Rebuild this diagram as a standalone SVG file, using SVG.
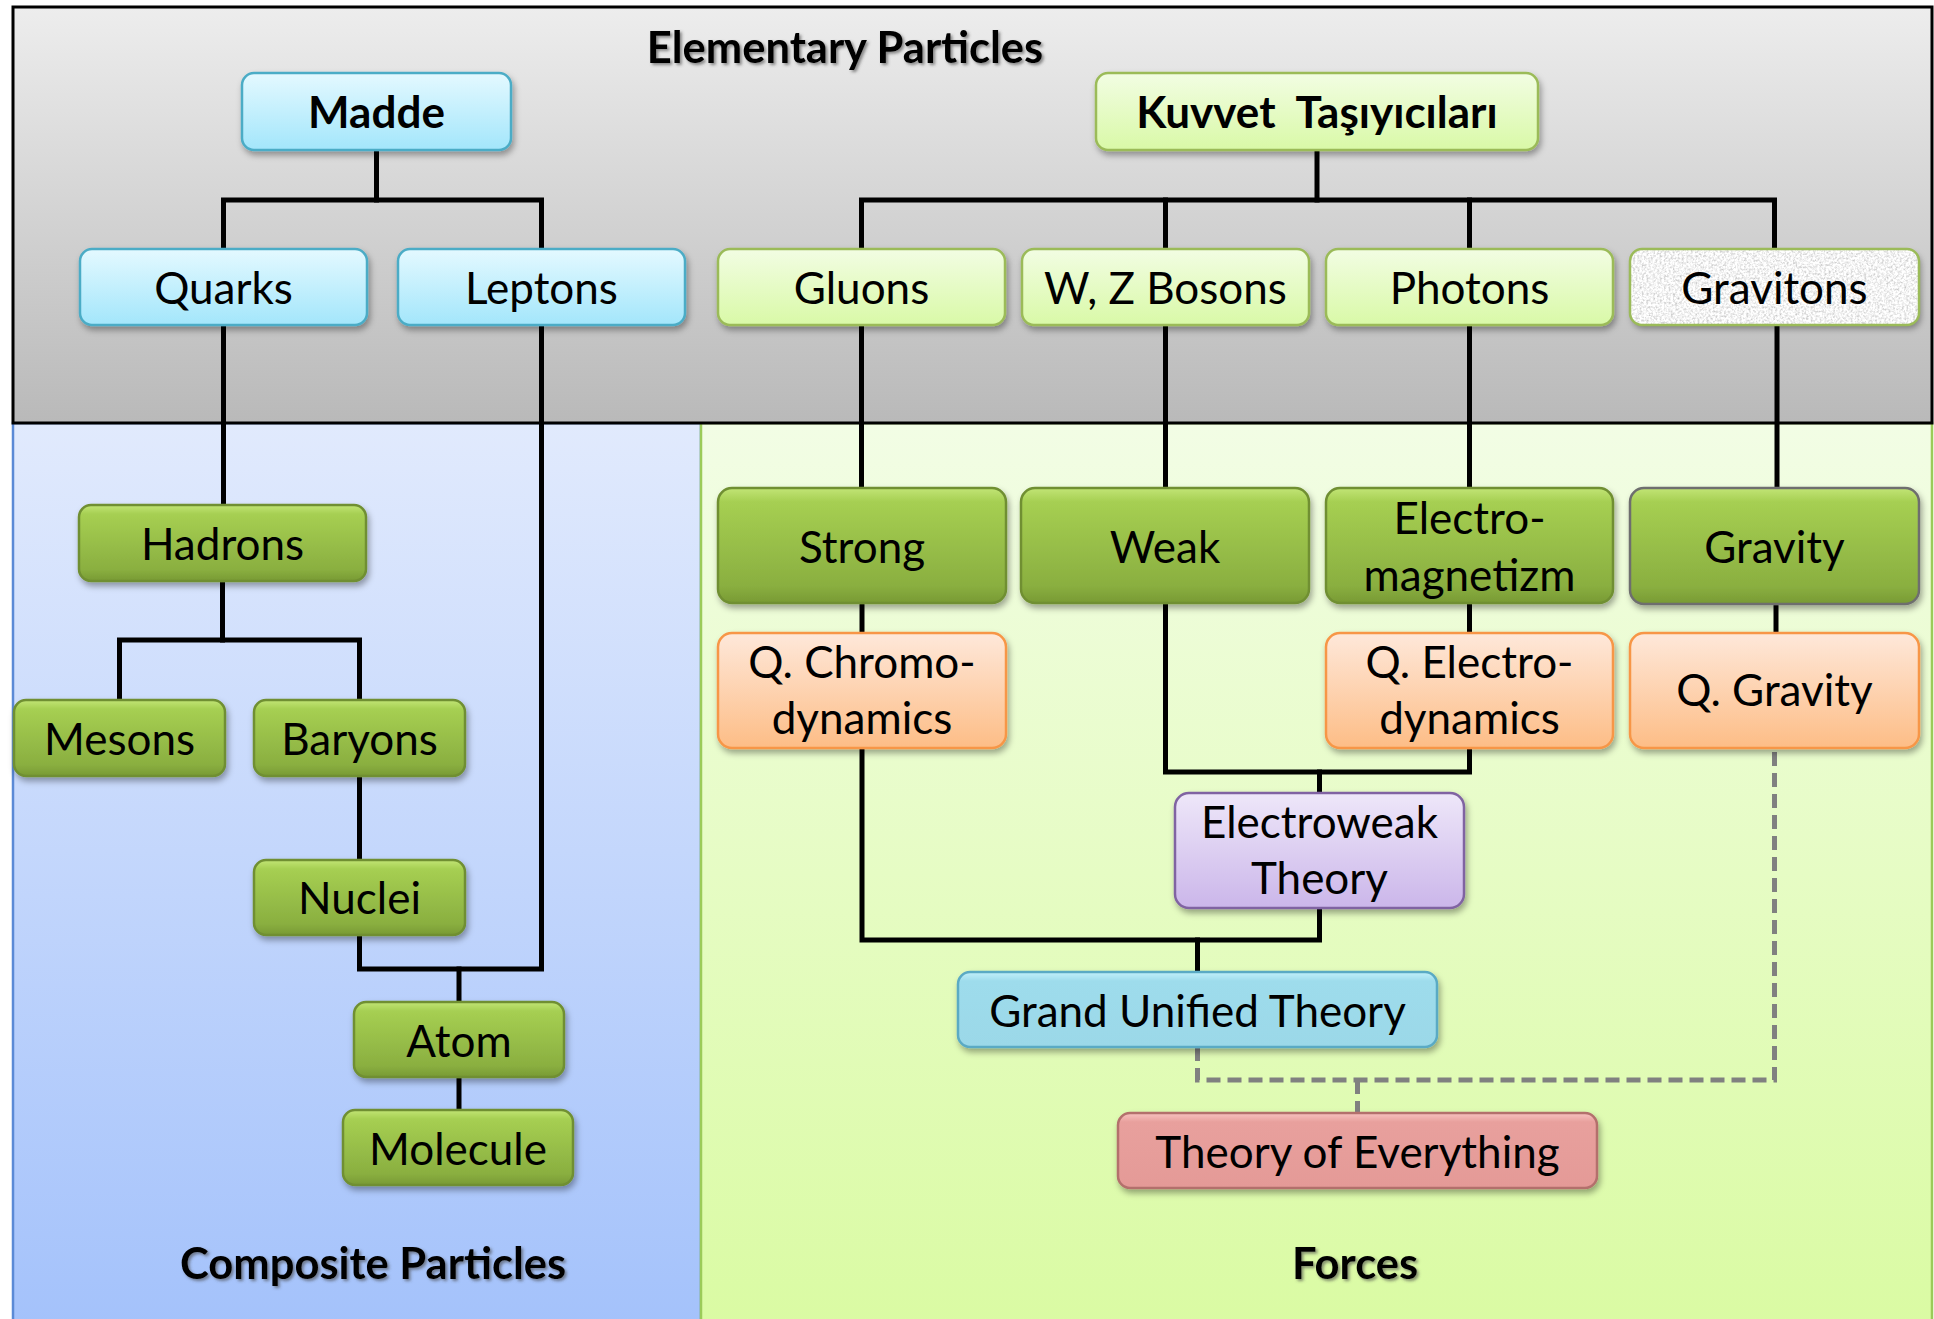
<svg xmlns="http://www.w3.org/2000/svg" width="1934" height="1319" viewBox="0 0 1934 1319">
<defs>
<style>
.lbl{font-family:Lato,"Liberation Sans",sans-serif;font-size:44px;text-anchor:middle;fill:#000}
.b{font-weight:700}
.hdr{font-family:Lato,"Liberation Sans",sans-serif;font-size:43.5px;font-weight:700;text-anchor:middle;fill:#000}
.conn{stroke:#000;stroke-width:5;fill:none;stroke-linejoin:miter;stroke-linecap:square}
.dash{stroke:#808080;stroke-width:5;stroke-dasharray:14 7;fill:none}
.nBlue{fill:url(#gNBlue);stroke:#4bacc6;stroke-width:2.5}
.nLG{fill:url(#gNLG);stroke:#9bbb59;stroke-width:2.5}
.nDG{fill:url(#gNDG);stroke:#6f8f32;stroke-width:2.5}
.nOr{fill:url(#gNOr);stroke:#f79646;stroke-width:2.5}
.nPu{fill:url(#gNPu);stroke:#8064a2;stroke-width:2.5}
.nGut{fill:url(#gNGut);stroke:#5aaac4;stroke-width:2.5}
.nToe{fill:url(#gNToe);stroke:#b36f6c;stroke-width:2.5}
.sh{filter:url(#shadow)}
</style>
<linearGradient id="gGrey" x1="0" y1="0" x2="0" y2="1"><stop offset="0" stop-color="#ededed"/><stop offset="1" stop-color="#b9b9b9"/></linearGradient>
<linearGradient id="gBlueBg" x1="0" y1="0" x2="0" y2="1"><stop offset="0" stop-color="#e1eafd"/><stop offset="1" stop-color="#a4c2fb"/></linearGradient>
<linearGradient id="gGreenBg" x1="0" y1="0" x2="0" y2="1"><stop offset="0" stop-color="#f2fde5"/><stop offset="1" stop-color="#dafba3"/></linearGradient>
<linearGradient id="gNBlue" x1="0" y1="0" x2="0" y2="1"><stop offset="0" stop-color="#e4f9ff"/><stop offset="1" stop-color="#a3e6fb"/></linearGradient>
<linearGradient id="gNLG" x1="0" y1="0" x2="0" y2="1"><stop offset="0" stop-color="#f2fde3"/><stop offset="1" stop-color="#d9f9a7"/></linearGradient>
<linearGradient id="gNDG" x1="0" y1="0" x2="0" y2="1"><stop offset="0" stop-color="#c2e576"/><stop offset="0.12" stop-color="#a6cf52"/><stop offset="0.85" stop-color="#8aaf40"/><stop offset="1" stop-color="#789a34"/></linearGradient>
<linearGradient id="gNOr" x1="0" y1="0" x2="0" y2="1"><stop offset="0" stop-color="#fee8da"/><stop offset="1" stop-color="#fdbd86"/></linearGradient>
<linearGradient id="gNPu" x1="0" y1="0" x2="0" y2="1"><stop offset="0" stop-color="#eee7f9"/><stop offset="1" stop-color="#cbb6ea"/></linearGradient>
<linearGradient id="gNGut" x1="0" y1="0" x2="0" y2="1"><stop offset="0" stop-color="#c2f0fb"/><stop offset="0.12" stop-color="#9edcec"/><stop offset="1" stop-color="#9bd8e8"/></linearGradient>
<linearGradient id="gNToe" x1="0" y1="0" x2="0" y2="1"><stop offset="0" stop-color="#f8c2c0"/><stop offset="0.12" stop-color="#e8a09d"/><stop offset="1" stop-color="#e49a97"/></linearGradient>
<filter id="shadow" x="-10%" y="-10%" width="120%" height="140%"><feDropShadow dx="2" dy="4" stdDeviation="3" flood-color="#000" flood-opacity="0.35"/></filter>
<filter id="tshadow" x="-5%" y="-20%" width="110%" height="150%"><feDropShadow dx="2" dy="2" stdDeviation="1.5" flood-color="#444" flood-opacity="0.6"/></filter>
<filter id="granite" x="0" y="0" width="1" height="1">
<feTurbulence type="fractalNoise" baseFrequency="0.45" numOctaves="3" seed="4" result="n"/>
<feColorMatrix in="n" type="matrix" values="0.9 0 0 0 0.45  0.9 0 0 0 0.45  0.9 0 0 0 0.45  0 0 0 0 1" result="g"/>
<feComposite in="g" in2="SourceGraphic" operator="in"/>
</filter>
</defs>

<g id="background">
<rect x="0" y="0" width="1934" height="1319" fill="#ffffff"/>
<rect x="13" y="423" width="688" height="900" fill="url(#gBlueBg)" stroke="#5b8ad6" stroke-width="2.5"/>
<rect x="701" y="423" width="1231" height="900" fill="url(#gGreenBg)" stroke="#9bcb59" stroke-width="2.5"/>
<rect x="13" y="7" width="1919" height="416" fill="url(#gGrey)" stroke="#000" stroke-width="3"/>
<text class="hdr" x="845" y="63" filter="url(#tshadow)">Elementary Particles</text>
<text class="hdr" x="373" y="1279" filter="url(#tshadow)">Composite Particles</text>
<text class="hdr" x="1355" y="1279" filter="url(#tshadow)">Forces</text>
</g>

<g id="connectors">
<path class="conn" d="M376.5 150 V200"/>
<path class="conn" d="M223.5 249 V200 H541.5 V249"/>
<path class="conn" d="M1317 150 V200"/>
<path class="conn" d="M861.5 249 V200 H1774.5 V249"/>
<path class="conn" d="M1165.5 200 V249"/>
<path class="conn" d="M1469.5 200 V249"/>
<path class="conn" d="M223.5 325 V505"/>
<path class="conn" d="M222.5 581 V640"/>
<path class="conn" d="M119.5 700 V640 H359.5 V700"/>
<path class="conn" d="M359.5 776 V860"/>
<path class="conn" d="M541.5 325 V969 H359.5 V935"/>
<path class="conn" d="M459 969 V1002"/>
<path class="conn" d="M459 1077 V1110"/>
<path class="conn" d="M861.5 325 V488"/>
<path class="conn" d="M862 603 V633"/>
<path class="conn" d="M862 748 V940 H1319.5 V908"/>
<path class="conn" d="M1197.5 940 V972"/>
<path class="conn" d="M1165.5 325 V488"/>
<path class="conn" d="M1165.5 603 V772 H1469.5 V748"/>
<path class="conn" d="M1319.5 772 V793"/>
<path class="conn" d="M1469.5 325 V488"/>
<path class="conn" d="M1469.5 603 V633"/>
<path class="conn" d="M1777 325 V488"/>
<path class="conn" d="M1776 605 V633"/>
<path class="dash" d="M1197.5 1047 V1080 H1774.5 V748"/>
<path class="dash" d="M1357.5 1080 V1113"/>
</g>

<g id="madde"><rect class="nBlue sh" x="242" y="73" width="269" height="77" rx="12"/><text class="lbl b" x="376.5" y="128">Madde</text></g>
<g id="kuvvet"><rect class="nLG sh" x="1096" y="73" width="442" height="77" rx="12"/><text class="lbl b" x="1317" y="128" xml:space="preserve">Kuvvet  Taşıyıcıları</text></g>
<g id="quarks"><rect class="nBlue sh" x="80" y="249" width="287" height="76" rx="12"/><text class="lbl" x="223.5" y="304">Quarks</text></g>
<g id="leptons"><rect class="nBlue sh" x="398" y="249" width="287" height="76" rx="12"/><text class="lbl" x="541.5" y="304">Leptons</text></g>
<g id="gluons"><rect class="nLG sh" x="718" y="249" width="287" height="76" rx="12"/><text class="lbl" x="861.5" y="304">Gluons</text></g>
<g id="wzbosons"><rect class="nLG sh" x="1022" y="249" width="287" height="76" rx="12"/><text class="lbl" x="1165.5" y="304">W, Z Bosons</text></g>
<g id="photons"><rect class="nLG sh" x="1326" y="249" width="287" height="76" rx="12"/><text class="lbl" x="1469.5" y="304">Photons</text></g>
<g id="gravitons"><rect class="sh" x="1630" y="249" width="289" height="76" rx="12" fill="#eeeeee"/><rect x="1630" y="249" width="289" height="76" rx="12" fill="#fff" filter="url(#granite)"/><rect x="1630" y="249" width="289" height="76" rx="12" fill="none" stroke="#9bbb59" stroke-width="2.5"/><text class="lbl" x="1774.5" y="304">Gravitons</text></g>

<g id="hadrons"><rect class="nDG sh" x="79" y="505" width="287" height="76" rx="12"/><text class="lbl" x="222.5" y="560">Hadrons</text></g>
<g id="mesons"><rect class="nDG sh" x="14" y="700" width="211" height="76" rx="12"/><text class="lbl" x="119.5" y="755">Mesons</text></g>
<g id="baryons"><rect class="nDG sh" x="254" y="700" width="211" height="76" rx="12"/><text class="lbl" x="359.5" y="755">Baryons</text></g>
<g id="nuclei"><rect class="nDG sh" x="254" y="860" width="211" height="75" rx="12"/><text class="lbl" x="359.5" y="914">Nuclei</text></g>
<g id="atom"><rect class="nDG sh" x="354" y="1002" width="210" height="75" rx="12"/><text class="lbl" x="459" y="1057">Atom</text></g>
<g id="molecule"><rect class="nDG sh" x="343" y="1110" width="230" height="75" rx="12"/><text class="lbl" x="458" y="1165">Molecule</text></g>

<g id="strong"><rect class="nDG sh" x="718" y="488" width="288" height="115" rx="14"/><text class="lbl" x="862" y="563">Strong</text></g>
<g id="weak"><rect class="nDG sh" x="1021" y="488" width="288" height="115" rx="14"/><text class="lbl" x="1165" y="563">Weak</text></g>
<g id="electromagnetizm"><rect class="nDG sh" x="1326" y="488" width="287" height="115" rx="14"/><text class="lbl" x="1469.5" y="534">Electro-</text><text class="lbl" x="1469.5" y="591">magnetizm</text></g>
<g id="gravity"><rect class="nDG sh" x="1630" y="488" width="289" height="116" rx="14" style="stroke:#6e6e6e"/><text class="lbl" x="1774.5" y="563">Gravity</text></g>

<g id="qchromo"><rect class="nOr sh" x="718" y="633" width="288" height="115" rx="14"/><text class="lbl" x="862" y="678">Q. Chromo-</text><text class="lbl" x="862" y="734">dynamics</text></g>
<g id="qelectro"><rect class="nOr sh" x="1326" y="633" width="287" height="115" rx="14"/><text class="lbl" x="1469.5" y="678">Q. Electro-</text><text class="lbl" x="1469.5" y="734">dynamics</text></g>
<g id="qgravity"><rect class="nOr sh" x="1630" y="633" width="289" height="115" rx="14"/><text class="lbl" x="1774.5" y="706">Q. Gravity</text></g>

<g id="electroweak"><rect class="nPu sh" x="1175" y="793" width="289" height="115" rx="14"/><text class="lbl" x="1319.5" y="838">Electroweak</text><text class="lbl" x="1319.5" y="894">Theory</text></g>
<g id="gut"><rect class="nGut sh" x="958" y="972" width="479" height="75" rx="12"/><text class="lbl" x="1197.5" y="1027">Grand Unified Theory</text></g>
<g id="toe"><rect class="nToe sh" x="1118" y="1113" width="479" height="75" rx="12"/><text class="lbl" x="1357.5" y="1168">Theory of Everything</text></g>
</svg>
